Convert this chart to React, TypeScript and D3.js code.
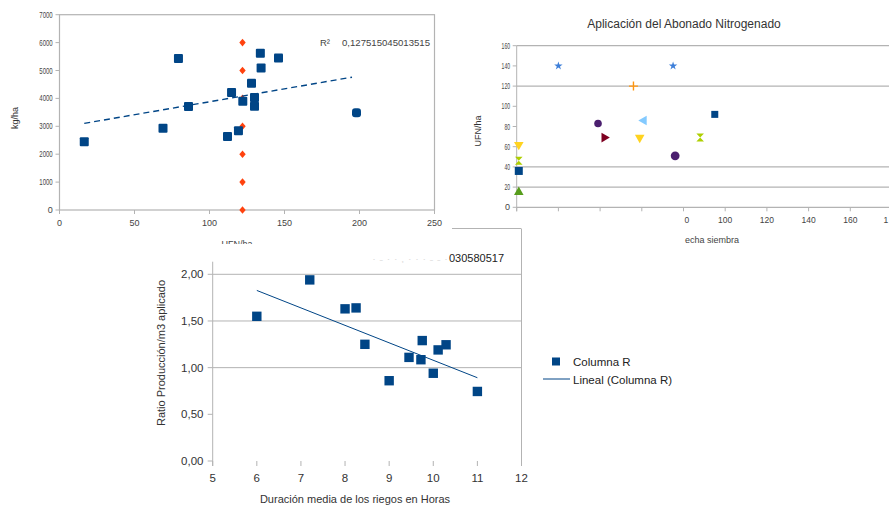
import React from "react";
import * as d3 from "d3";

// ---------- Chart 1 (top-left): kg/ha vs UFN/ha ----------
const X1_TICKS = [0, 50, 100, 150, 200, 250];
const Y1_TICKS = [0, 1000, 2000, 3000, 4000, 5000, 6000, 7000];
const UFN1 = [16.5, 69, 79.3, 86, 112, 114.7, 119.3, 122.2, 128, 130, 130, 133.9, 134.4, 146, 198];
const KG1 = [2450, 2930, 5430, 3710, 2630, 4210, 2840, 3900, 4540, 4030, 3720, 5620, 5090, 5450, 3490];
const REF_X1 = 122;
const REF_Y1 = [0, 1000, 2000, 3000, 4000, 5000, 6000];
const TREND1_X = [16.5, 195];
const TREND1_Y = [3105, 4760];
const R2_TEXT_1 = "0,127515045013515";

// ---------- Chart 2 (top-right): Aplicación del Abonado Nitrogenado ----------
const TITLE2 = "Aplicación del Abonado Nitrogenado";
const Y2_TICKS = [0, 20, 40, 60, 80, 100, 120, 140, 160];
const Y2_GRID = [0, 20, 40, 120, 160];
const X2_TICKS = [0, 20, 40, 60, 80, 100, 120, 140, 160, 180];
const X2_LABELS = ["", "", "", "", "0", "100", "120", "140", "160", "1"];
const SQ2 = [[1, 36], [95, 92]];
const TRI_UP2 = [[1, 15]];
const TRI_DOWN2 = [[1, 62], [59, 69]];
const HOUR2 = [[1, 46], [88, 69]];
const CIRC2 = [[39, 83], [76, 51]];
const TRI_RIGHT2 = [[42, 69]];
const TRI_LEFT2 = [[61, 86]];
const PLUS2 = [[56, 120]];
const STAR2 = [[20, 140], [75, 140]];

// ---------- Chart 3 (bottom): Ratio vs duración ----------
const X3_TICKS = [5, 6, 7, 8, 9, 10, 11, 12];
const Y3_TICKS = [0, 0.5, 1.0, 1.5, 2.0];
const Y3_GRID = [1.0, 1.5, 2.0];
const DUR3 = [6.0, 7.2, 8.0, 8.25, 8.45, 9.0, 9.45, 9.72, 9.75, 10.0, 10.11, 10.29, 11.0];
const RATIO3 = [1.55, 1.94, 1.63, 1.64, 1.25, 0.86, 1.11, 1.085, 1.29, 0.94, 1.19, 1.245, 0.745];
const TREND3_X = [6, 11];
const TREND3_Y = [1.827, 0.892];
const LEGEND3 = ["Columna R", "Lineal (Columna R)"];

const BLUE = "#004586";
const GRID = "#b3b3b3";
const FONT = "'Liberation Sans', Arial, sans-serif";

export default function App() {
  // chart 1 scales
  const x1 = d3.scaleLinear().domain([0, 250]).range([59.5, 434.5]);
  const y1 = d3.scaleLinear().domain([0, 7000]).range([210, 14.7]);
  // chart 2 scales
  const x2 = d3.scaleLinear().domain([0, 180]).range([516.7, 892]);
  const y2 = d3.scaleLinear().domain([0, 160]).range([207.3, 45.7]);
  // chart 3 scales
  const x3 = d3.scaleLinear().domain([5, 12]).range([212.7, 521.5]);
  const y3 = d3.scaleLinear().domain([0, 2]).range([461, 274.3]);

  const trend1 = d3.line<number>().x((d, i) => x1(TREND1_X[i])).y((d) => y1(d))(TREND1_Y) || "";
  const trend3 = d3.line<number>().x((d, i) => x3(TREND3_X[i])).y((d) => y3(d))(TREND3_Y) || "";

  const sym = (type: any, size: number) => d3.symbol().type(type).size(size)() || "";
  const triPath = sym(d3.symbolTriangle, 40);
  const hourPath = "M-3.8,-4L3.8,-4L-3.8,4L3.8,4Z";

  const fmt3 = (v: number) => v.toFixed(2).replace(".", ",");

  return (
    <svg
      width={889}
      height={509}
      style={{ position: "absolute", left: 0, top: 0, background: "#fff", fontFamily: FONT }}
    >
      <rect x={0} y={0} width={889} height={509} fill="#fff" />

      {/* ================= Chart 1 ================= */}
      <g>
        <rect x={x1(0)} y={y1(7000)} width={x1(250) - x1(0)} height={y1(0) - y1(7000)} fill="none" stroke={GRID} strokeWidth={1.2} />
        {Y1_TICKS.map((t) => (
          <g key={"y1" + t}>
            <line x1={x1(0) - 4} x2={x1(0)} y1={y1(t)} y2={y1(t)} stroke={GRID} />
            <text
              x={52.7}
              y={y1(t) + 3}
              fontSize={9}
              fill="#444"
              textAnchor="end"
              {...(String(t).length > 1 ? { textLength: String(t).length * 3.35, lengthAdjust: "spacingAndGlyphs" } : {})}
            >
              {t}
            </text>
          </g>
        ))}
        {X1_TICKS.map((t) => (
          <g key={"x1" + t}>
            <line x1={x1(t)} x2={x1(t)} y1={y1(0)} y2={y1(0) + 4} stroke={GRID} />
            <text x={x1(t)} y={y1(0) + 16} fontSize={9} fill="#444" textAnchor="middle">
              {t}
            </text>
          </g>
        ))}
        <text transform={`translate(18,118) rotate(-90)`} fontSize={9} fill="#333" textAnchor="middle">
          kg/ha
        </text>
        <text x={237} y={247} fontSize={9} fill="#444" textAnchor="middle">
          UFN/ha
        </text>
        {REF_Y1.map((v) => (
          <path
            key={"d" + v}
            transform={`translate(${x1(REF_X1)},${y1(v)})`}
            d="M0,-3.8L3.2,0L0,3.8L-3.2,0Z"
            fill="#ff420e"
          />
        ))}
        <path d={trend1} fill="none" stroke={BLUE} strokeWidth={1.4} strokeDasharray="6,4" />
        {UFN1.map((u, i) => (
          <rect key={"s1" + i} x={x1(u) - 4.5} y={y1(KG1[i]) - 4.5} width={9} height={9} rx={i === UFN1.length - 1 ? 3 : 1} fill={BLUE} />
        ))}
        <text x={320} y={46} fontSize={9.5} fill="#444">
          R²
        </text>
        <text x={342} y={46} fontSize={9.5} fill="#444" textLength={88} lengthAdjust="spacingAndGlyphs">
          {R2_TEXT_1}
        </text>
      </g>

      {/* ================= Chart 2 ================= */}
      <g>
        <text x={684} y={28} fontSize={12} fill="#333" textAnchor="middle">
          {TITLE2}
        </text>
        {Y2_GRID.map((t) => (
          <line key={"g2" + t} x1={x2(0)} x2={889} y1={y2(t)} y2={y2(t)} stroke={GRID} strokeWidth={1.2} />
        ))}
        <line x1={x2(0)} x2={x2(0)} y1={y2(160)} y2={y2(0) + 4} stroke={GRID} />
        {Y2_TICKS.map((t) => (
          <g key={"y2" + t}>
            <line x1={x2(0) - 4} x2={x2(0)} y1={y2(t)} y2={y2(t)} stroke={GRID} />
            <text
              x={510}
              y={y2(t) + 3}
              fontSize={9}
              fill="#444"
              textAnchor="end"
              {...(String(t).length > 1 ? { textLength: String(t).length * 2.8, lengthAdjust: "spacingAndGlyphs" } : {})}
            >
              {t}
            </text>
          </g>
        ))}
        {X2_TICKS.map((t, i) => (
          <g key={"x2" + t}>
            <line x1={x2(t)} x2={x2(t)} y1={y2(0)} y2={y2(0) + 4} stroke={GRID} />
            <text
              x={X2_LABELS[i].length === 1 ? (x2(t) > 880 ? 883.5 : x2(t) + 1) : x2(t)}
              y={y2(0) + 16}
              fontSize={8.5}
              fill="#444"
              textAnchor={X2_LABELS[i].length === 1 ? "start" : "middle"}
            >
              {X2_LABELS[i]}
            </text>
          </g>
        ))}
        <text transform={`translate(481,131) rotate(-90)`} fontSize={9} fill="#333" textAnchor="middle">
          UFN/ha
        </text>
        <text x={685} y={243} fontSize={9} fill="#444">
          echa siembra
        </text>

        {STAR2.map(([a, b], i) => (
          <path key={"st" + i} transform={`translate(${x2(a)},${y2(b)})`} d={sym(d3.symbolStar, 22)} fill="#3d7fd9" />
        ))}
        {PLUS2.map(([a, b], i) => (
          <path key={"pl" + i} transform={`translate(${x2(a)},${y2(b)})`} d="M-4.5,0H4.5M0,-4.5V4.5" stroke="#ff950e" strokeWidth={1.4} />
        ))}
        {CIRC2.map(([a, b], i) => (
          <circle key={"ci" + i} cx={x2(a)} cy={y2(b)} r={i === 1 ? 4.4 : 3.8} fill="#4b1f6f" />
        ))}
        {TRI_LEFT2.map(([a, b], i) => (
          <path key={"tl" + i} transform={`translate(${x2(a)},${y2(b)}) rotate(-90)`} d={triPath} fill="#83caff" />
        ))}
        {TRI_RIGHT2.map(([a, b], i) => (
          <path key={"tr" + i} transform={`translate(${x2(a)},${y2(b)}) rotate(90)`} d={triPath} fill="#7e0021" />
        ))}
        {TRI_DOWN2.map(([a, b], i) => (
          <path key={"td" + i} transform={`translate(${x2(a)},${y2(b)}) rotate(180)`} d={triPath} fill="#ffd320" />
        ))}
        {HOUR2.map(([a, b], i) => (
          <path key={"hg" + i} transform={`translate(${x2(a)},${y2(b)})`} d={hourPath} fill="#aecf00" />
        ))}
        {SQ2.map(([a, b], i) => (
          <rect key={"sq" + i} x={x2(a) - (i === 0 ? 4 : 3.5)} y={y2(b) - (i === 0 ? 4 : 3.5)} width={i === 0 ? 8 : 7} height={i === 0 ? 8 : 7} fill={BLUE} />
        ))}
        {TRI_UP2.map(([a, b], i) => (
          <path key={"tu" + i} transform={`translate(${x2(a)},${y2(b)})`} d={triPath} fill="#579d1c" />
        ))}
      </g>

      {/* ================= Chart 3 ================= */}
      <g>
        <rect x={140} y={244} width={381} height={265} fill="#fff" />
        <line x1={452} x2={521} y1={228.5} y2={228.5} stroke={GRID} />
        <line x1={521.5} x2={521.5} y1={228.5} y2={y3(0)} stroke={GRID} />
        <text x={372} y={262} fontSize={8} fill="#d8d8d8" textLength={76} lengthAdjust="spacingAndGlyphs">
          ·  -  ·  ·  ,  ·  ·  ·  -  -  ·
        </text>
        <text x={449} y={262} fontSize={11} fill="#222">
          030580517
        </text>
        {Y3_GRID.map((t) => (
          <line key={"g3" + t} x1={x3(5)} x2={x3(12)} y1={y3(t)} y2={y3(t)} stroke={GRID} />
        ))}
        <line x1={x3(5)} x2={x3(5)} y1={261.7} y2={y3(0) + 5} stroke={GRID} />
        {Y3_TICKS.map((t) => (
          <g key={"y3" + t}>
            <line x1={x3(5) - 5} x2={x3(5)} y1={y3(t)} y2={y3(t)} stroke={GRID} />
            <text x={203.5} y={y3(t) + 4} fontSize={11.5} fill="#333" textAnchor="end">
              {fmt3(t)}
            </text>
          </g>
        ))}
        {X3_TICKS.map((t) => (
          <g key={"x3" + t}>
            <line x1={x3(t)} x2={x3(t)} y1={y3(0)} y2={y3(0) + 5} stroke={GRID} />
            <text x={x3(t)} y={481.5} fontSize={11.5} fill="#333" textAnchor="middle">
              {t}
            </text>
          </g>
        ))}
        <text transform={`translate(165,353) rotate(-90)`} fontSize={11} fill="#333" textAnchor="middle">
          Ratio Producción/m3 aplicado
        </text>
        <text x={355} y={503} fontSize={11} fill="#333" textAnchor="middle">
          Duración media de los riegos en Horas
        </text>
        {DUR3.map((d, i) => (
          <rect key={"s3" + i} x={x3(d) - 4.7} y={y3(RATIO3[i]) - 4.7} width={9.4} height={9.4} fill={BLUE} />
        ))}
        <path d={trend3} fill="none" stroke={BLUE} strokeWidth={1} />
        {/* legend */}
        <rect x={552} y={357.5} width={8} height={8} fill={BLUE} />
        <text x={573} y={365.5} fontSize={11.5} fill="#222">
          {LEGEND3[0]}
        </text>
        <line x1={543} x2={570} y1={379} y2={379} stroke={BLUE} strokeWidth={1} />
        <text x={573} y={383.5} fontSize={11.5} fill="#222">
          {LEGEND3[1]}
        </text>
      </g>
    </svg>
  );
}
